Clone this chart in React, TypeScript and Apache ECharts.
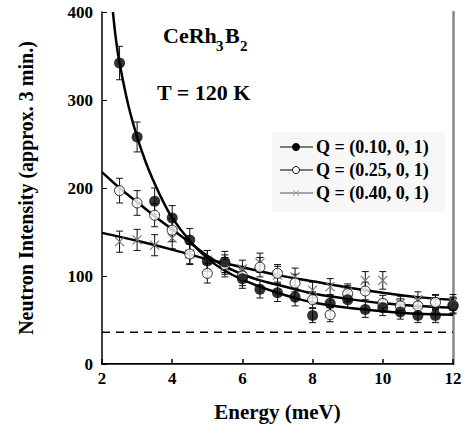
import React, { useEffect, useRef } from "react";
import * as echarts from "echarts";

const energies = [2.5, 3, 3.5, 4, 4.5, 5, 5.5, 6, 6.5, 7, 7.5, 8, 8.5, 9, 9.5, 10, 10.5, 11, 11.5, 12];
const q010 = [342, 258, 185, 166, 141, 117, 116, 97, 85, 81, 76, 55, 69, 73, 62, 64, 59, 55, 55, 66];
const q010Err = [19, 17, 15, 14, 13, 12, 12, 11, 10, 10, 10, 8, 9, 9, 9, 9, 8, 8, 8, 9];
const q025 = [197, 183, 169, 152, 125, 103, 113, 100, 110, 103, 92, 73, 56, 80, 83, 69, 66, 66, 70, 67];
const q025Err = [14, 14, 13, 13, 12, 11, 11, 11, 11, 10, 10, 9, 8, 9, 10, 9, 8, 8, 9, 9];
const q040 = [139, 141, 135, 143, 125, 118, 110, 108, 115, 101, 99, 84, 88, 82, 95, 95, 69, 73, 70, 70];
const q040Err = [12, 12, 12, 12, 11, 11, 11, 10, 11, 10, 10, 9, 9, 9, 10, 10, 8, 9, 8, 9];

const fit010E = [2.31, 2.4, 2.5, 2.75, 3, 3.25, 3.5, 3.75, 4, 4.5, 5, 5.5, 6, 6.5, 7, 7.5, 8, 9, 10, 11, 12];
const fit010I = [400, 368, 342, 294, 258, 229, 205, 184, 166, 140, 120, 106, 96, 88, 81, 75, 70, 64, 60, 57, 56];
const fit025E = [2, 2.5, 3, 3.5, 4, 4.5, 5, 5.5, 6, 6.5, 7, 7.5, 8, 9, 10, 11, 12];
const fit025I = [218, 200, 184, 168, 153, 138, 123, 111, 102, 95, 90, 85, 80, 74, 69, 66, 64];
const fit040E = [2, 3, 4, 5, 6, 7, 8, 9, 10, 11, 12];
const fit040I = [149, 140, 130, 119, 110, 101, 94, 87, 81, 76, 73];

const background = 36;
const xTicks = { min: 2, max: 12, interval: 2 };
const yTicks = { min: 0, max: 400, interval: 100 };

const legendLabels = ["Q = (0.10, 0, 1)", "Q = (0.25, 0, 1)", "Q = (0.40, 0, 1)"];

const FONT = "'Liberation Serif', 'Times New Roman', serif";

const pairs = (xs: number[], ys: number[]) => xs.map((x, i) => [x, ys[i]]);
const triples = (xs: number[], ys: number[], es: number[]) => xs.map((x, i) => [x, ys[i], es[i]]);

function errorRender(withCross: boolean) {
  return (params: any, api: any) => {
    const x = api.value(0);
    const y = api.value(1);
    const e = api.value(2);
    const top = api.coord([x, y + e]);
    const bot = api.coord([x, y - e]);
    const c = api.coord([x, y]);
    const cap = 3.5;
    const st = { stroke: "#111", lineWidth: 1 };
    const children: any[] = [
      { type: "line", shape: { x1: top[0], y1: top[1], x2: bot[0], y2: bot[1] }, style: st },
      { type: "line", shape: { x1: top[0] - cap, y1: top[1], x2: top[0] + cap, y2: top[1] }, style: st },
      { type: "line", shape: { x1: bot[0] - cap, y1: bot[1], x2: bot[0] + cap, y2: bot[1] }, style: st },
    ];
    if (withCross) {
      const s = 4.5;
      const cs = { stroke: "#777", lineWidth: 1.2 };
      children.push(
        { type: "line", shape: { x1: c[0] - s, y1: c[1] - s, x2: c[0] + s, y2: c[1] + s }, style: cs },
        { type: "line", shape: { x1: c[0] - s, y1: c[1] + s, x2: c[0] + s, y2: c[1] - s }, style: cs }
      );
    }
    return { type: "group", children };
  };
}

export default function App() {
  const ref = useRef<HTMLDivElement>(null);
  useEffect(() => {
    if (!ref.current) return;
    const chart = echarts.init(ref.current, undefined, { renderer: "svg" });
    const fitLine = (name: string, data: number[][]) => ({
      type: "line",
      name,
      data,
      showSymbol: false,
      symbol: "none",
      smooth: 0.3,
      lineStyle: { color: "#000", width: 2.5 },
      z: 3,
      silent: true,
    });
    const legendY = [147, 170, 193];
    const legendGraphics: any[] = [
      { type: "rect", shape: { x: 272, y: 132, width: 173, height: 80 }, style: { fill: "#f7f7f7" }, z: 10 },
    ];
    legendLabels.forEach((lab, i) => {
      const y = legendY[i];
      legendGraphics.push({
        type: "line",
        shape: { x1: 280, y1: y, x2: 313, y2: y },
        style: { stroke: i === 2 ? "#555" : "#000", lineWidth: 1.2 },
        z: 11,
      });
      if (i === 0) {
        legendGraphics.push({ type: "circle", shape: { cx: 296, cy: y, r: 4 }, style: { fill: "#000" }, z: 12 });
      } else if (i === 1) {
        legendGraphics.push({ type: "circle", shape: { cx: 296, cy: y, r: 3.5 }, style: { fill: "#fff", stroke: "#000", lineWidth: 1 }, z: 12 });
      } else {
        legendGraphics.push(
          { type: "line", shape: { x1: 293, y1: y - 3, x2: 299, y2: y + 3 }, style: { stroke: "#999", lineWidth: 1 }, z: 12 },
          { type: "line", shape: { x1: 293, y1: y + 3, x2: 299, y2: y - 3 }, style: { stroke: "#999", lineWidth: 1 }, z: 12 }
        );
      }
      legendGraphics.push({
        type: "text",
        x: 316,
        y,
        style: { text: lab, font: `bold 18px ${FONT}`, fill: "#000", verticalAlign: "middle", textAlign: "left" },
        z: 12,
      });
    });

    chart.setOption({
      animation: false,
      backgroundColor: "#fff",
      grid: { left: 102, right: 18, top: 12, bottom: 69 },
      xAxis: [
        {
          type: "value",
          ...xTicks,
          name: "Energy (meV)",
          nameLocation: "middle",
          nameGap: 37,
          nameTextStyle: { fontFamily: FONT, fontWeight: "bold", fontSize: 21, color: "#000" },
          axisLine: { show: true, lineStyle: { color: "#000", width: 2 } },
          axisTick: { show: true, inside: true, length: 5, lineStyle: { color: "#000", width: 1.5 } },
          axisLabel: { fontFamily: FONT, fontWeight: "bold", fontSize: 17, color: "#000", margin: 6 },
          splitLine: { show: false },
        },
        {
          type: "value",
          ...xTicks,
          position: "top",
          axisLine: { show: true, lineStyle: { color: "#444", width: 1 } },
          axisTick: { show: false },
          axisLabel: { show: false },
          splitLine: { show: false },
        },
      ],
      yAxis: [
        {
          type: "value",
          ...yTicks,
          name: "Neutron Intensity (approx. 3 min.)",
          nameLocation: "middle",
          nameGap: 66,
          nameTextStyle: { fontFamily: FONT, fontWeight: "bold", fontSize: 20, color: "#000" },
          axisLine: { show: true, lineStyle: { color: "#000", width: 1.5 } },
          axisTick: { show: true, inside: true, length: 5, lineStyle: { color: "#000", width: 1 } },
          axisLabel: { fontFamily: FONT, fontWeight: "bold", fontSize: 17, color: "#000", margin: 9 },
          splitLine: { show: false },
        },
        {
          type: "value",
          ...yTicks,
          position: "right",
          axisLine: { show: true, lineStyle: { color: "#888", width: 2.5 } },
          axisTick: { show: false },
          axisLabel: { show: false },
          splitLine: { show: false },
        },
      ],
      graphic: [
        { type: "text", x: 163, y: 35, style: { text: "CeRh", font: `bold 22px ${FONT}`, fill: "#000", verticalAlign: "middle" } },
        { type: "text", x: 216, y: 46, style: { text: "3", font: `bold 15px ${FONT}`, fill: "#000", verticalAlign: "middle" } },
        { type: "text", x: 225, y: 35, style: { text: "B", font: `bold 22px ${FONT}`, fill: "#000", verticalAlign: "middle" } },
        { type: "text", x: 240, y: 46, style: { text: "2", font: `bold 15px ${FONT}`, fill: "#000", verticalAlign: "middle" } },
        { type: "text", x: 157, y: 92, style: { text: "T = 120 K", font: `bold 22px ${FONT}`, fill: "#000", verticalAlign: "middle" } },
        ...legendGraphics,
      ],
      series: [
        {
          type: "line",
          data: [[xTicks.min, background], [xTicks.max, background]],
          symbol: "none",
          lineStyle: { color: "#000", width: 1.5, type: [8, 6] },
          silent: true,
          z: 1,
        },
        fitLine(legendLabels[0], pairs(fit010E, fit010I)),
        fitLine(legendLabels[1], pairs(fit025E, fit025I)),
        fitLine(legendLabels[2], pairs(fit040E, fit040I)),
        {
          type: "custom",
          renderItem: errorRender(false),
          data: triples(energies, q010, q010Err),
          encode: { x: 0, y: 1 },
          z: 4,
          silent: true,
        },
        {
          type: "custom",
          renderItem: errorRender(false),
          data: triples(energies, q025, q025Err),
          encode: { x: 0, y: 1 },
          z: 4,
          silent: true,
        },
        {
          type: "custom",
          renderItem: errorRender(true),
          data: triples(energies, q040, q040Err),
          encode: { x: 0, y: 1 },
          z: 4,
          silent: true,
        },
        {
          type: "scatter",
          data: pairs(energies, q025),
          symbol: "circle",
          symbolSize: 10,
          itemStyle: { color: "#fff", borderColor: "#000", borderWidth: 1 },
          z: 5,
          silent: true,
        },
        {
          type: "scatter",
          data: pairs(energies, q010),
          symbol: "circle",
          symbolSize: 11,
          itemStyle: { color: "#000" },
          z: 6,
          silent: true,
        },
      ],
    });
    return () => chart.dispose();
  }, []);
  return <div ref={ref} style={{ position: "absolute", left: 0, top: 0, width: 471, height: 433 }} />;
}
